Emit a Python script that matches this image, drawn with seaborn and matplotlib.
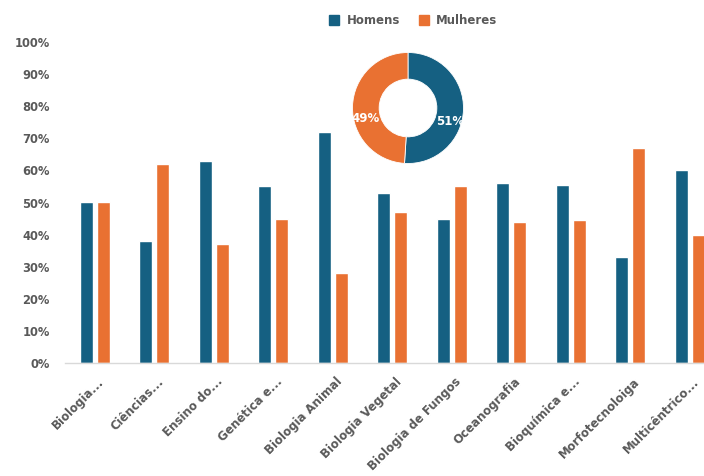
import matplotlib
matplotlib.use("Agg")
import matplotlib.pyplot as plt
from matplotlib.lines import Line2D
import seaborn as sns
import pandas as pd

# Course names (as shown, truncated like the source labels)
cursos = [
    "Biologia...", "Ciências...", "Ensino do...", "Genética e...",
    "Biologia Animal", "Biologia Vegetal", "Biologia de Fungos",
    "Oceanografia", "Bioquímica e...", "Morfotecnoloiga", "Multicêntrico...",
]
# Share of each gender per course (fraction of 1)
homens = [0.50, 0.38, 0.63, 0.55, 0.72, 0.53, 0.45, 0.56, 0.555, 0.33, 0.60]
mulheres = [0.50, 0.62, 0.37, 0.45, 0.28, 0.47, 0.55, 0.44, 0.445, 0.67, 0.40]
# Overall split for the donut
total_labels = ["Homens", "Mulheres"]
total_values = [51, 49]

AZUL = "#156082"
LARANJA = "#E97132"
CINZA = "#595959"
FONTE = ["DejaVu Sans"]

sns.set_theme(style="white")
plt.rcParams["font.family"] = FONTE

df = pd.DataFrame({
    "Curso": cursos * 2,
    "Genero": ["Homens"] * len(cursos) + ["Mulheres"] * len(cursos),
    "Valor": homens + mulheres,
})

W, H = 704, 476
fig = plt.figure(figsize=(W / 100, H / 100), dpi=100)
fig.patch.set_facecolor("white")

# Main bar axes (extends slightly past the right edge)
x0, x1 = 65, 719.5
y0, y1 = 363, 42
ax = fig.add_axes([x0 / W, (H - y0) / H, (x1 - x0) / W, (y0 - y1) / H])

sns.barplot(
    data=df, x="Curso", y="Valor", hue="Genero",
    palette={"Homens": AZUL, "Mulheres": LARANJA}, saturation=1,
    width=0.57, gap=0.24, ax=ax, legend=False, errorbar=None,
)

ax.set_xlim(-0.5, len(cursos) - 0.5)
ax.set_ylim(0, 1.0)
ax.set_yticks([i / 10 for i in range(11)])
ax.set_yticklabels([f"{i * 10}%" for i in range(11)])
# rotated category labels sit slightly right of each group centre
ax.set_xticks([i + 0.12 for i in range(len(cursos))])
ax.set_xticklabels(cursos)
ax.set_xlabel("")
ax.set_ylabel("")
for s in ["top", "right", "left"]:
    ax.spines[s].set_visible(False)
ax.spines["bottom"].set_color("#D9D9D9")
ax.spines["bottom"].set_linewidth(1.0)
ax.tick_params(axis="both", length=0)
ax.tick_params(axis="y", pad=11)
for lab in ax.get_yticklabels():
    lab.set_fontweight("bold")
    lab.set_fontsize(8.3)
    lab.set_color(CINZA)
for lab in ax.get_xticklabels():
    lab.set_rotation(45)
    lab.set_ha("right")
    lab.set_va("center")
    lab.set_rotation_mode("anchor")
    lab.set_fontweight("bold")
    lab.set_fontsize(8.5)
    lab.set_color(CINZA)
ax.tick_params(axis="x", pad=12)
ax.set_facecolor("white")

# Donut with overall split
cx, cy, r = 408, 108, 55.5
ax2 = fig.add_axes([(cx - r) / W, (H - cy - r) / H, 2 * r / W, 2 * r / H])
wedges, _, autotexts = ax2.pie(
    total_values, colors=[AZUL, LARANJA], startangle=90, counterclock=False,
    wedgeprops=dict(width=0.48, edgecolor="white", linewidth=0.6),
    autopct=lambda p: f"{p:.0f}%", pctdistance=0.76,
)
ax2.set_xlim(-1, 1)
ax2.set_ylim(-1, 1)
for t in autotexts:
    px, py = t.get_position()
    t.set_position((px, py - 0.22))
    t.set_color("white")
    t.set_fontweight("bold")
    t.set_fontsize(8.5)
ax2.set_aspect("equal")

# Legend
handles = [
    Line2D([0], [0], marker="s", linestyle="", markersize=6.5,
           markerfacecolor=AZUL, markeredgecolor=AZUL, label="Homens"),
    Line2D([0], [0], marker="s", linestyle="", markersize=6.5,
           markerfacecolor=LARANJA, markeredgecolor=LARANJA, label="Mulheres"),
]
leg = fig.legend(
    handles=handles, loc="center", bbox_to_anchor=(410 / W, (H - 21) / H),
    ncol=2, frameon=False, handletextpad=0.05, columnspacing=1.0,
    prop={"weight": "bold", "size": 8.5, "family": FONTE},
)
for t in leg.get_texts():
    t.set_color(CINZA)

fig.savefig("out.png", dpi=100, facecolor="white")
